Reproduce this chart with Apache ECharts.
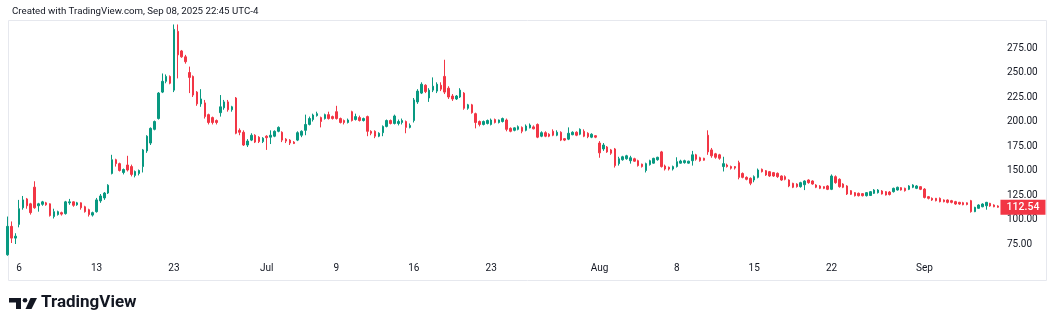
<!DOCTYPE html>
<html>
<head>
<meta charset="utf-8">
<title>CRCL 2h</title>
<script src="https://cdn.jsdelivr.net/npm/echarts@6/dist/echarts.min.js"></script>
<style>
  html, body { margin: 0; padding: 0; background: #fff; }
  #main { width: 1056px; height: 329px; }
</style>
</head>
<body>
<div id="main"></div>
<script>
// trading days shown on the chart
const days = [
  '2025-06-05', '2025-06-06', '2025-06-09', '2025-06-10', '2025-06-11', '2025-06-12', '2025-06-13',
  '2025-06-16', '2025-06-17', '2025-06-18', '2025-06-20', '2025-06-23', '2025-06-24', '2025-06-25',
  '2025-06-26', '2025-06-27', '2025-06-30',
  '2025-07-01', '2025-07-02', '2025-07-03', '2025-07-07', '2025-07-08', '2025-07-09', '2025-07-10',
  '2025-07-11', '2025-07-14', '2025-07-15', '2025-07-16', '2025-07-17', '2025-07-18', '2025-07-21',
  '2025-07-22', '2025-07-23', '2025-07-24', '2025-07-25', '2025-07-28', '2025-07-29', '2025-07-30',
  '2025-07-31',
  '2025-08-01', '2025-08-04', '2025-08-05', '2025-08-06', '2025-08-07', '2025-08-08', '2025-08-11',
  '2025-08-12', '2025-08-13', '2025-08-14', '2025-08-15', '2025-08-18', '2025-08-19', '2025-08-20',
  '2025-08-21', '2025-08-22', '2025-08-25', '2025-08-26', '2025-08-27', '2025-08-28', '2025-08-29',
  '2025-09-02', '2025-09-03', '2025-09-04', '2025-09-05', '2025-09-08'
]
// 2h bars per session; IPO day and Jul 3 half day are shorter
const sessionSlots = ['09:30', '11:30', '13:30', '15:30']
const shortSessions = {
  '2025-06-05': ['11:30', '13:30', '15:30'],
  '2025-07-03': ['09:30', '11:30']
}
// time axis labels
const tickLabels = {
  '2025-06-06': '6', '2025-06-13': '13', '2025-06-23': '23', '2025-07-01': 'Jul',
  '2025-07-09': '9', '2025-07-16': '16', '2025-07-23': '23', '2025-08-01': 'Aug',
  '2025-08-08': '8', '2025-08-15': '15', '2025-08-22': '22', '2025-09-02': 'Sep'
}
const priceTicks = [75, 100, 125, 150, 175, 200, 225, 250, 275]
const lastPrice = 112.54

// [open, close, low, high]
const juneBars = [
  [64, 93, 63, 103], [93, 81, 76, 98], [81, 83, 75, 86],
  [95, 111, 92, 120], [112, 120, 110, 124], [121, 114, 111, 122], [116, 107, 105, 117],
  [133, 112, 111, 139], [114, 116, 108, 117], [115.5, 118, 114, 119], [117, 115, 114, 118],
  [116, 104, 103, 116.5], [103, 108, 101, 111], [105, 108, 104, 109], [107, 105.5, 104, 108],
  [106, 118, 105, 119], [117, 118, 115, 121], [118, 114.5, 113, 118.5], [115, 117, 114, 118],
  [117, 112, 110, 117.5], [113, 108, 107, 114], [110, 105, 103, 111], [104.5, 107, 103, 108],
  [108, 120, 107, 122], [119, 124, 117, 126], [122, 127, 120, 128], [127, 135, 126, 136],
  [147, 161, 146, 166], [161, 157, 154, 162], [157, 150, 149, 158], [148, 151, 146, 152],
  [155.6, 150.5, 149, 165], [154, 146, 144, 156], [145, 149, 143, 150], [147, 150, 145, 151],
  [154, 171, 148, 172], [170, 185, 168, 186], [178, 193, 176, 194], [192, 200, 191, 201],
  [203, 229, 202, 230], [230, 241, 229, 249], [241, 246, 239, 248], [246, 239, 238, 247],
  [232, 294, 230, 299], [292, 268, 244, 299], [272, 266, 265, 273], [266, 261, 259, 268],
  [250, 245, 229, 256], [246, 227, 225, 247], [230, 218, 216, 231], [218, 223, 215, 233],
  [219, 205, 203, 222], [207, 199, 197, 208], [204, 199, 197, 205], [201, 199, 197, 202],
  [209, 215, 205, 227], [214, 220, 212, 222], [220, 212, 210, 222], [212, 215, 210, 216],
  [224, 188, 187, 225], [191, 189, 186, 193], [189, 176, 175, 191], [176, 180, 174, 182],
  [181, 186, 180, 188], [186, 179, 178, 187], [184, 179.5, 178, 185], [179.5, 183, 178, 184]
]
const julyBars = [
  [185, 183.5, 171, 186], [184, 186, 177, 191], [185, 190, 184, 191], [190, 194, 189, 195],
  [189, 181, 179, 190], [182, 180, 178, 183], [181, 178, 176, 182], [179, 177.5, 177, 180],
  [181, 188.6, 180, 190], [186, 190, 184, 191],
  [191, 197, 186, 207], [197, 203, 196, 205], [202, 206.6, 200, 208], [206, 208, 205, 210],
  [204, 200, 194, 205], [203, 207, 202, 208], [207, 203, 202, 210], [205, 203, 202, 206],
  [210, 203, 202, 216], [203, 199, 198, 204], [201, 199, 197, 202], [199, 201.5, 198, 203],
  [210, 201, 200, 211], [202, 205, 201, 208], [204, 201, 200, 206], [201, 203, 200, 204],
  [205, 190, 185, 206], [190, 188, 186, 191], [190, 185, 183, 191], [185, 188, 184, 189],
  [188.6, 195, 185, 196], [195, 201, 194, 202], [201, 198, 197, 202], [198, 205.6, 197, 207],
  [198, 200, 196, 202], [199, 201, 197, 203], [200, 194, 188, 201], [194, 196, 193, 198],
  [201, 222, 199, 224], [220, 231, 218, 233], [229, 238, 228, 240], [237, 230.5, 229, 238],
  [224, 232, 220, 234], [232, 236, 230, 245], [231, 238, 229, 240], [237, 233, 231, 240],
  [246, 230, 228, 263], [234, 225, 223, 236], [226, 223, 221, 228], [223, 226, 222, 227],
  [225, 232, 224, 234], [229, 213.5, 212, 230], [213.5, 217, 212, 218], [217, 209, 208, 218],
  [208, 199, 193, 209], [200, 197, 195, 201], [197, 200, 196, 201], [198, 201, 197, 202],
  [197, 201.5, 196, 203], [202, 199, 198, 203], [199, 201.5, 198, 202], [200, 203, 199, 204],
  [201.5, 192, 190, 203], [193, 190, 189, 194], [191, 193.5, 190, 194], [192, 194.7, 191, 196],
  [194, 190, 188, 195], [191, 195.4, 190, 197], [193.5, 196.4, 193, 198], [194.5, 192.5, 192, 196],
  [197, 184, 183, 198], [185, 188.6, 184, 190], [188.6, 185, 184, 190], [187, 185, 184, 188],
  [190, 186, 185, 192], [186, 189, 185, 191], [189, 181, 180, 190], [182.5, 181, 180, 183],
  [182, 188, 181, 194], [186.5, 189, 186, 190], [189, 186, 185, 190], [187, 192, 186, 193],
  [190, 185, 184, 192], [188, 184.5, 183, 189], [184, 187, 183, 188], [185.5, 184, 183, 186]
]
const augustBars = [
  [178, 168, 163, 180], [172, 176, 170, 178], [174, 169, 168, 175], [171, 167.6, 166, 172],
  [172, 155, 153, 173], [157, 162, 155, 164], [161, 164, 160, 165], [162, 165, 161, 166],
  [160, 163, 157, 165], [162, 159.5, 159, 163], [160, 155, 154, 161], [156.5, 154, 153, 157],
  [150, 157, 148, 158], [156, 160, 155, 161], [157.5, 162.4, 157, 163], [161, 163.5, 160, 164],
  [169, 154, 153, 170], [154.6, 151.5, 150, 156], [153.3, 151.5, 150, 154], [151.5, 154, 150, 155],
  [154, 159, 153, 163.5], [157.5, 159.7, 157, 161], [158, 160, 157, 161], [157.5, 159.5, 157, 160],
  [160, 166, 155, 170], [166, 161.5, 160, 167], [163, 160, 159, 164], [162.5, 160.5, 160, 163],
  [186, 169, 166, 191], [171, 165, 163, 173], [167, 163.5, 162, 168], [166, 162.5, 161, 167],
  [154, 157, 149, 164], [155.6, 154, 153, 157], [154, 152.3, 151, 155], [154, 152.5, 151, 154.5],
  [158, 143, 141, 160], [147, 143, 142, 148], [143, 141, 140, 144], [142, 137, 135, 143],
  [140.3, 143.7, 138, 145], [143, 150.5, 142, 152], [151.2, 148.8, 148, 152], [149.8, 145.4, 144.5, 150.5],
  [148.8, 144.4, 143.5, 149.5], [147.8, 144.4, 143.5, 148.5], [147.1, 143.7, 142.5, 148], [144.4, 140.3, 139.5, 145],
  [143.7, 141, 140, 145], [140.3, 134.2, 133, 141], [136.9, 132.9, 132, 137.5], [136.2, 133.5, 132.5, 137],
  [133.5, 137.6, 132.5, 138.5], [135.5, 139.3, 130, 140], [140.3, 137.6, 136.5, 141], [139.3, 136.2, 135.5, 140],
  [135.2, 132.9, 132, 136], [134.2, 131.8, 131, 135], [133.5, 131.8, 131, 134], [134.2, 130.8, 130, 135],
  [130.8, 144.4, 130, 146], [143.7, 137.6, 136.5, 145], [141, 133.5, 132.5, 142], [136.2, 132.9, 132, 137],
  [134.2, 126, 125, 135], [129.4, 125.7, 125, 130], [127.4, 124.3, 123.5, 128], [126.7, 124.3, 123.5, 127.5],
  [126.4, 124.3, 123.5, 127], [124.3, 127.4, 123.5, 128], [124.5, 128.4, 124, 129], [126.7, 130.1, 126, 131],
  [127.4, 130.1, 126.5, 131], [129.1, 126, 125.5, 130], [128.4, 125, 124.5, 129], [128, 125.5, 124.5, 129],
  [128.4, 131.8, 127.5, 132.5], [130.1, 132.9, 129.5, 133.5], [132.5, 130.1, 129.5, 133], [131.8, 129.4, 128.5, 132.5],
  [130.8, 134.2, 130, 135], [132.9, 135.2, 132, 136], [131.8, 134.2, 131, 135], [133.5, 130.8, 130, 134]
]
const septemberBars = [
  [131, 122.5, 121.5, 132], [123.3, 121.6, 120.5, 124], [121.6, 119.9, 119, 122.5], [121.6, 119.2, 118.5, 122],
  [121.6, 118.2, 117.5, 122.5], [119.9, 118.2, 117.5, 120.5], [119.9, 117.5, 116.5, 120.5], [119.2, 117.5, 116.5, 120],
  [118.2, 115.8, 115, 119], [117.5, 115.8, 115, 118], [117.1, 115.1, 114.5, 118], [117, 115.3, 114.5, 117.5],
  [119.2, 108, 107, 120], [108, 112.4, 107.5, 113], [111.4, 114.8, 111, 115.5], [113, 115.8, 112.5, 116.5],
  [114, 117.5, 110, 118], [116.5, 113.8, 113, 117], [114.8, 113, 112.5, 115.5], [113.8, 112.54, 112, 114.5]
]

const UP = '#089981'
const DOWN = '#f23645'
const TEXT = '#131722'
const FONT = 'Roboto, "Noto Sans", sans-serif'

const categories = []
const tickIndex = {}
days.forEach(day => {
  const slots = shortSessions[day] || sessionSlots
  if (tickLabels[day]) tickIndex[categories.length] = tickLabels[day]
  slots.forEach(s => categories.push(day + ' ' + s))
})
const bars = [...juneBars, ...julyBars, ...augustBars, ...septemberBars]

const chart = echarts.init(document.getElementById('main'))

chart.setOption({
  animation: false,
  backgroundColor: '#ffffff',
  title: {
    text: 'Created with TradingView.com, Sep 08, 2025 22:45 UTC-4',
    left: 7, top: 2,
    textStyle: { fontFamily: FONT, fontSize: 9.7, fontWeight: 'normal', color: TEXT }
  },
  grid: { left: 5.6, right: 56.1, top: 23.5, bottom: 72.75 },
  xAxis: {
    type: 'category',
    data: categories,
    boundaryGap: true,
    axisLine: { show: false },
    axisTick: { show: false },
    splitLine: { show: false },
    axisLabel: {
      margin: 7,
      color: TEXT,
      fontFamily: FONT,
      fontSize: 10,
      hideOverlap: false,
      interval: idx => tickIndex[idx] !== undefined,
      formatter: (val, idx) => tickIndex[idx] || ''
    }
  },
  yAxis: {
    type: 'value',
    position: 'right',
    min: 62.5,
    max: 300,
    interval: 12.5,
    scale: true,
    axisLine: { show: false },
    axisTick: { show: false },
    splitLine: { show: false },
    axisLabel: {
      margin: 7,
      color: TEXT,
      fontFamily: FONT,
      fontSize: 10,
      formatter: v => priceTicks.includes(v) ? v.toFixed(2) : ''
    }
  },
  series: [{
    type: 'candlestick',
    data: bars,
    barWidth: 2,
    itemStyle: {
      color: UP, color0: DOWN,
      borderColor: UP, borderColor0: DOWN,
      borderWidth: 1
    },
    markPoint: {
      silent: true,
      data: [{
        coord: [categories.length - 1, lastPrice],
        symbol: 'rect',
        symbolSize: [45, 15],
        symbolOffset: [25, 0],
        itemStyle: { color: DOWN },
        label: {
          show: true, position: 'inside',
          formatter: lastPrice.toFixed(2),
          color: '#ffffff', fontFamily: FONT, fontSize: 10.5, fontWeight: 500
        }
      }]
    }
  }],
  graphic: [
    // chart frame
    {
      type: 'rect', silent: true, z: -1,
      shape: { x: 8.5, y: 20.5, width: 1038, height: 260 },
      style: { fill: 'none', stroke: '#e6e8ee', lineWidth: 1 }
    },
    // logo
    {
      type: 'polygon',
      shape: { points: [[9, 298], [21, 298], [21, 309], [16, 309], [16, 302.5], [9, 302.5]] },
      style: { fill: TEXT }
    },
    {
      type: 'circle',
      shape: { cx: 25, cy: 300.3, r: 2.3 },
      style: { fill: TEXT }
    },
    {
      type: 'polygon',
      shape: { points: [[30.5, 298], [37, 298], [31.5, 309], [25.5, 309]] },
      style: { fill: TEXT }
    },
    {
      type: 'text',
      left: 41, top: 294,
      style: { text: 'TradingView', fontFamily: FONT, fontSize: 17, fontWeight: 'bold', fill: TEXT }
    }
  ]
})
</script>
</body>
</html>
